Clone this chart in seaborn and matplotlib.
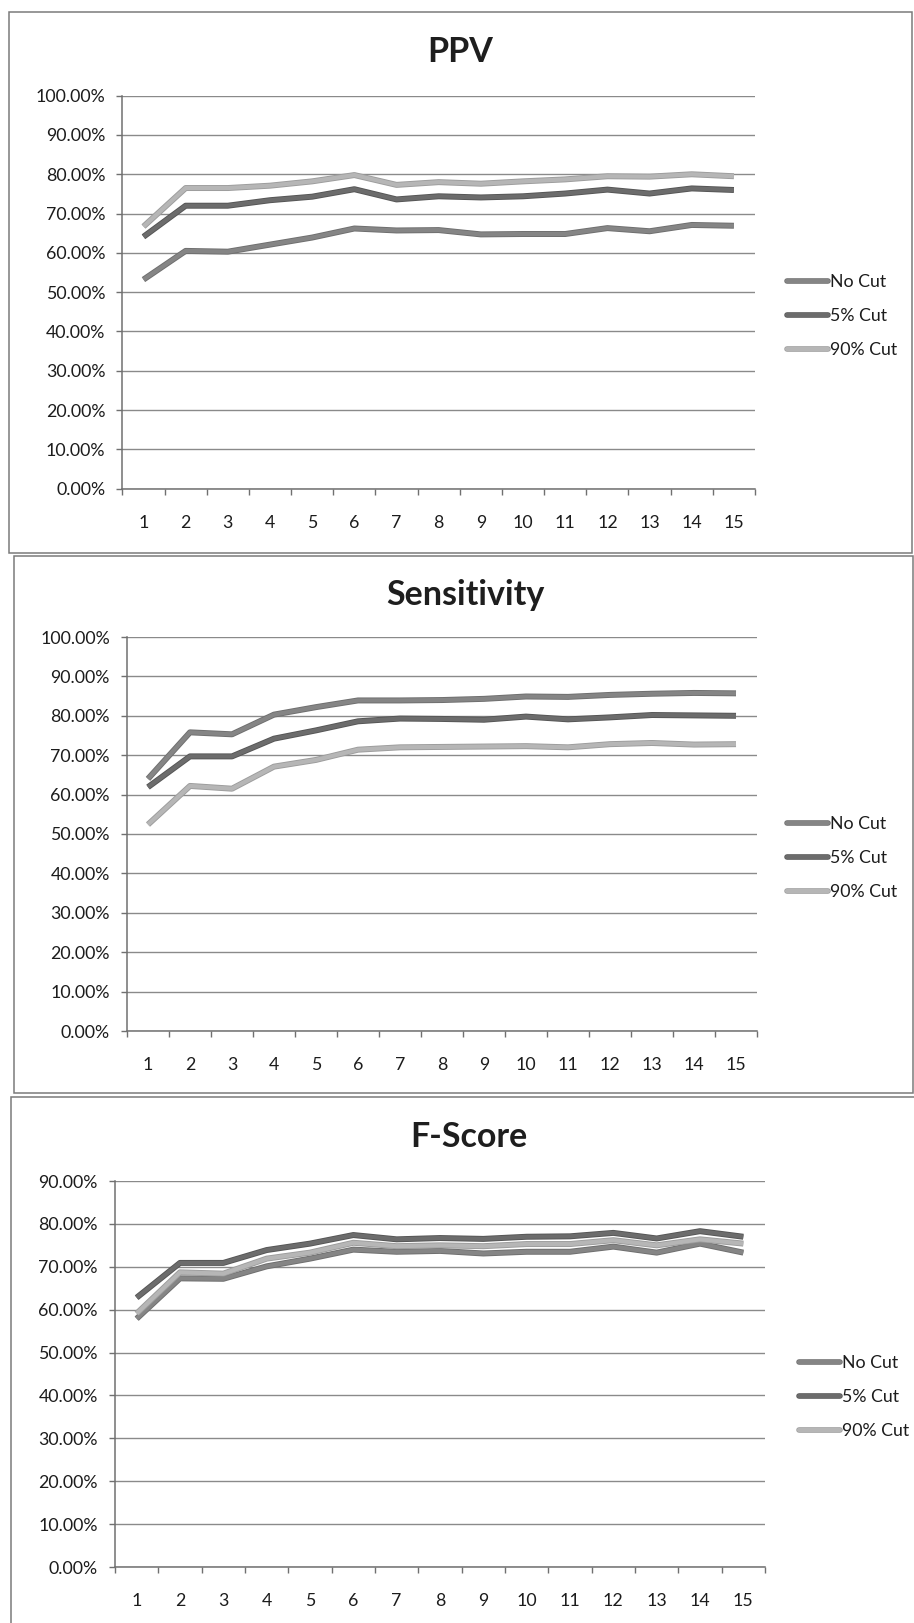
import numpy as np
import pandas as pd
import matplotlib
matplotlib.use("Agg")
import matplotlib.pyplot as plt
import matplotlib.patheffects as pe
from matplotlib.patches import Rectangle
from matplotlib.ticker import FuncFormatter
import seaborn as sns

# Number of features (x categories)
features = list(range(1, 16))
series_names = ["No Cut", "5% Cut", "90% Cut"]

# Positive predictive value (%)
ppv_no_cut = [53.2, 60.5, 60.3, 62.1, 63.9, 66.2, 65.7, 65.8, 64.7, 64.8, 64.8, 66.3, 65.5, 67.1, 66.9]
ppv_5_cut = [64.1, 72.0, 72.0, 73.4, 74.3, 76.2, 73.6, 74.4, 74.1, 74.4, 75.1, 76.1, 75.1, 76.4, 76.0]
ppv_90_cut = [66.7, 76.5, 76.5, 77.1, 78.2, 79.8, 77.3, 78.0, 77.6, 78.2, 78.7, 79.5, 79.4, 80.0, 79.5]

# Sensitivity (%)
sens_no_cut = [64.0, 75.8, 75.3, 80.3, 82.2, 83.9, 83.9, 84.0, 84.3, 84.9, 84.8, 85.3, 85.6, 85.8, 85.7]
sens_5_cut = [61.9, 69.7, 69.7, 74.2, 76.3, 78.6, 79.3, 79.2, 79.0, 79.8, 79.1, 79.6, 80.2, 80.1, 80.0]
sens_90_cut = [52.4, 62.2, 61.5, 67.1, 68.8, 71.4, 72.0, 72.1, 72.2, 72.3, 72.0, 72.8, 73.1, 72.7, 72.8]

# F-score (%)
f_no_cut = [57.9, 67.3, 67.2, 70.1, 71.9, 74.0, 73.5, 73.7, 73.1, 73.5, 73.5, 74.7, 73.3, 75.4, 73.3]
f_5_cut = [62.8, 70.9, 70.9, 73.9, 75.4, 77.4, 76.4, 76.7, 76.5, 77.0, 77.1, 77.9, 76.6, 78.3, 77.0]
f_90_cut = [59.1, 68.7, 68.4, 71.9, 73.3, 75.6, 74.8, 75.0, 74.8, 75.3, 75.3, 76.2, 75.0, 76.4, 75.4]

titles = ["PPV", "Sensitivity", "F-Score"]
y_max = [100, 100, 90]

palette = {"No Cut": "#858585", "5% Cut": "#6c6c6c", "90% Cut": "#b6b6b6"}
edge = {"No Cut": "#6e6e6e", "5% Cut": "#555555", "90% Cut": "#9c9c9c"}

sns.set_theme(style="white")
plt.rcParams["font.family"] = ["Lato", "DejaVu Sans"]

W, H = 914, 1623
fig = plt.figure(figsize=(W / 100, H / 100), dpi=100)
fig.patch.set_facecolor("white")


def fx(px):
    return px / W


def fy(py):
    return 1 - py / H


# chart frames (pixel boxes: left, top, right, bottom)
frames = [(9, 12.5, 912, 553), (13.5, 556, 913, 1093), (11, 1097, 916, 1626)]
for (l, t, r, b) in frames:
    fig.patches.append(Rectangle((fx(l), fy(b)), fx(r) - fx(l), fy(t) - fy(b),
                                 transform=fig.transFigure, fill=False,
                                 edgecolor="#7a7a7a", linewidth=1.1, zorder=0))

# plot areas (left, top, right, bottom) in pixels
plot_boxes = [(122.4, 95.7, 755, 488.6), (127, 637, 757, 1031), (115, 1181, 765, 1567)]
title_pos = [(460, 52.5), (465, 595), (469, 1137)]
legend_pos = [(787, 316), (787, 858), (799, 1397)]

data_sets = [
    (ppv_no_cut, ppv_5_cut, ppv_90_cut),
    (sens_no_cut, sens_5_cut, sens_90_cut),
    (f_no_cut, f_5_cut, f_90_cut),
]

grid_c = "#8a8a8a"
axis_c = "#707070"
text_c = "#1c1c1c"

for i in range(3):
    a, b, c = data_sets[i]
    df = pd.DataFrame({
        "Feature": features * 3,
        "Value": list(a) + list(b) + list(c),
        "Series": [series_names[0]] * 15 + [series_names[1]] * 15 + [series_names[2]] * 15,
    })
    l, t, r, bt = plot_boxes[i]
    ax = fig.add_axes([fx(l), fy(bt), fx(r) - fx(l), fy(t) - fy(bt)])
    ax.set_facecolor("none")
    sns.lineplot(data=df, x="Feature", y="Value", hue="Series", hue_order=series_names,
                 palette=palette, linewidth=3.0, ax=ax, legend=True, zorder=3)
    for line, name in zip(ax.lines, series_names):
        line.set_path_effects([pe.Stroke(linewidth=4.3, foreground=edge[name]), pe.Normal()])
        line.set_solid_capstyle("butt")
        line.set_solid_joinstyle("round")

    ymax = y_max[i]
    ax.set_xlim(0.5, 15.5)
    ax.set_ylim(0, ymax)
    ax.set_yticks(np.arange(0, ymax + 1, 10))
    ax.yaxis.set_major_formatter(FuncFormatter(lambda v, p: f"{v:.2f}%"))
    ax.set_xticks(features)
    ax.set_xticklabels([str(f) for f in features])
    ax.set_xticks(np.arange(0.5, 15.6, 1.0), minor=True)
    ax.set_xlabel("")
    ax.set_ylabel("")

    ax.yaxis.grid(True, color=grid_c, linewidth=1.0, zorder=1)
    ax.xaxis.grid(False)
    ax.set_axisbelow(True)
    for s in ["top", "right"]:
        ax.spines[s].set_visible(False)
    for s in ["left", "bottom"]:
        ax.spines[s].set_color(axis_c)
        ax.spines[s].set_linewidth(1.1)

    ax.tick_params(axis="y", which="major", left=True, length=4.3, width=1.0, color=axis_c,
                   direction="out", pad=8, labelsize=12.8, labelcolor=text_c)
    ax.tick_params(axis="x", which="major", bottom=True, length=0, pad=19,
                   labelsize=12.8, labelcolor=text_c)
    ax.tick_params(axis="x", which="minor", bottom=True, length=4.0, width=1.0,
                   color=axis_c, direction="out")

    lx, ly = legend_pos[i]
    leg = ax.legend(loc="center left", bbox_to_anchor=(fx(lx), fy(ly)),
                    bbox_transform=fig.transFigure, frameon=False, fontsize=12.8,
                    handlelength=2.3, handletextpad=0.12, labelspacing=1.0,
                    borderpad=0, borderaxespad=0)
    for txt in leg.get_texts():
        txt.set_color(text_c)
    for h, name in zip(leg.get_lines(), series_names):
        h.set_linewidth(3.0)
        h.set_path_effects([pe.Stroke(linewidth=4.0, foreground=edge[name]), pe.Normal()])

    tx, ty = title_pos[i]
    fig.text(fx(tx), fy(ty), titles[i], ha="center", va="center", fontsize=24.5,
             fontweight="bold", color="#1e1e1e")

fig.savefig("out.png", dpi=100, facecolor="white")
